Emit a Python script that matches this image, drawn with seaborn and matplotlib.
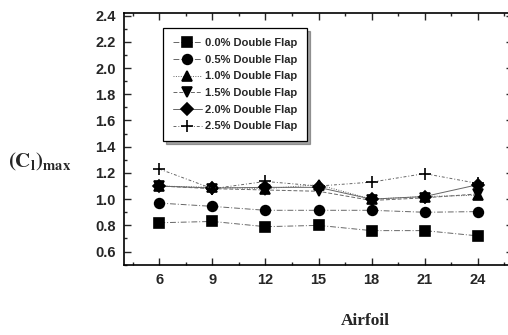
import matplotlib
matplotlib.use("Agg")
import matplotlib.pyplot as plt
import seaborn as sns
import pandas as pd
from matplotlib.ticker import MultipleLocator

airfoil = [6, 9, 12, 15, 18, 21, 24]
flap_00 = [0.82, 0.83, 0.79, 0.80, 0.76, 0.76, 0.72]
flap_05 = [0.97, 0.945, 0.915, 0.915, 0.915, 0.90, 0.905]
flap_10 = [1.10, 1.09, 1.08, 1.11, 1.00, 1.02, 1.03]
flap_15 = [1.10, 1.08, 1.07, 1.06, 0.99, 1.01, 1.04]
flap_20 = [1.10, 1.085, 1.09, 1.09, 1.00, 1.02, 1.11]
flap_25 = [1.23, 1.08, 1.135, 1.10, 1.13, 1.195, 1.12]
labels = ["0.0% Double Flap", "0.5% Double Flap", "1.0% Double Flap",
          "1.5% Double Flap", "2.0% Double Flap", "2.5% Double Flap"]

series = [flap_00, flap_05, flap_10, flap_15, flap_20, flap_25]
markers = ["s", "o", "^", "v", "D", "+"]
msizes = [6.5, 7, 7, 7, 6, 8]
lstyles = [(0, (6, 2, 1, 2)), (0, (6, 2, 1, 2)), (0, (1, 1.5)), (0, (4, 2)), "-", (0, (3, 2, 1, 2))]

sns.set_style("ticks")
plt.rcParams["mathtext.fontset"] = "stix"
fig = plt.figure(figsize=(5.08, 3.35), dpi=100)
ax = fig.add_axes([124/508, 1-264.7/335, 389/508, (264.7-13)/335])

for lab, vals, m, ms, ls in zip(labels, series, markers, msizes, lstyles):
    df = pd.DataFrame({"Airfoil": airfoil, "Cl": vals})
    sns.lineplot(data=df, x="Airfoil", y="Cl", ax=ax, color="0.4", linewidth=0.7,
                 linestyle=ls, marker=m, markersize=ms, markerfacecolor="black",
                 markeredgecolor="black", markeredgewidth=1.2, label=lab)

ax.set_xlim(4, 26)
ax.set_ylim(0.5, 2.42)
ax.set_xticks(airfoil)
ax.xaxis.set_minor_locator(MultipleLocator(1.5))
ax.set_yticks([0.6, 0.8, 1.0, 1.2, 1.4, 1.6, 1.8, 2.0, 2.2, 2.4])
ax.yaxis.set_minor_locator(MultipleLocator(0.1))
ax.tick_params(which="both", direction="in", top=True, right=True, width=1.0)
ax.tick_params(which="major", length=5, labelsize=10.5, pad=6)
ax.tick_params(which="minor", length=2.5)
for lbl in ax.get_xticklabels() + ax.get_yticklabels():
    lbl.set_fontweight("bold")
    lbl.set_family("Liberation Sans")
for sp in ax.spines.values():
    sp.set_linewidth(1.2)
    sp.set_color("black")

ax.set_xlabel("Airfoil", fontfamily="Liberation Serif", fontweight="bold", fontsize=12.5)
ax.xaxis.set_label_coords((365-124)/389, -(313-264.7)/251.7)
ax.set_ylabel(r"$\mathbf{(C_{l})_{max}}$", fontsize=15, rotation=0, va="center", ha="center")
ax.yaxis.set_label_coords(-(124-40)/389, (264.7-162)/251.7)

leg = ax.legend(loc="upper left", bbox_to_anchor=(0.1, 0.94), borderaxespad=0, frameon=True,
                shadow=True, fancybox=False, edgecolor="black", handlelength=2.6,
                borderpad=0.9, labelspacing=0.6, handletextpad=0.3,
                prop={"weight": "bold", "family": "Liberation Sans", "size": 8})
leg.get_frame().set_linewidth(0.9)

fig.savefig("out.png", dpi=100)
